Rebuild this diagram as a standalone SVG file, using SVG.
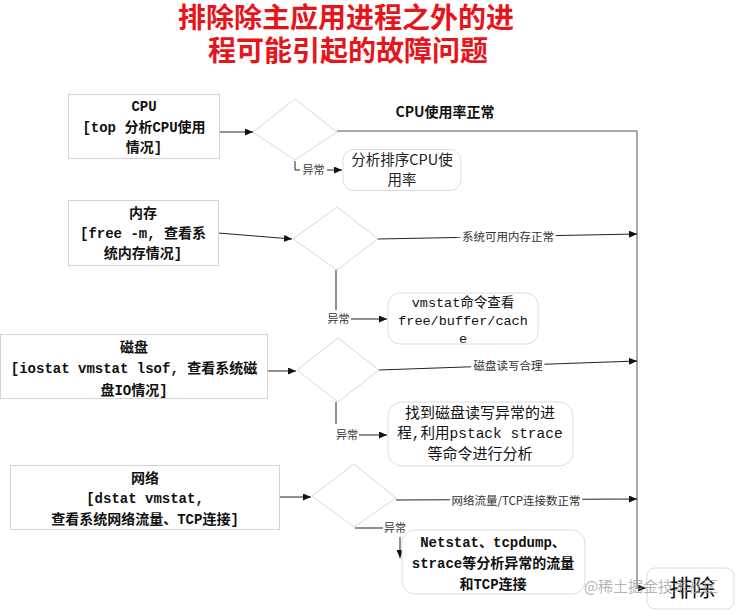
<svg xmlns="http://www.w3.org/2000/svg" width="737" height="614" viewBox="0 0 737 614">
<defs>
<marker id="arr" markerUnits="userSpaceOnUse" markerWidth="8" markerHeight="7" refX="8" refY="3.5" orient="auto">
<path d="M0,0 L8,3.5 L0,7 z" fill="#111"/>
</marker>
<style>
.title{font-family:"Noto Sans CJK SC","Noto Sans",sans-serif;font-size:28px;font-weight:bold;fill:#e8141a;text-anchor:middle}
.box{fill:#fff;stroke:#d4d4d4;stroke-width:1}
.rbox{fill:#fff;stroke:#dcdcdc;stroke-width:1}
.dia{fill:#fff;stroke:#d8d8d8;stroke-width:1}
.mono{font-family:"Liberation Mono","Noto Sans CJK SC",monospace;font-size:14px;fill:#111;text-anchor:middle}
.b{font-weight:bold}
.sans{font-family:"Noto Sans CJK SC","Noto Sans",sans-serif;font-size:14.5px;fill:#222;text-anchor:middle}
.lbl{font-family:"Noto Sans CJK SC","Noto Sans",sans-serif;font-size:11.5px;fill:#333;text-anchor:middle;paint-order:stroke;stroke:#fff;stroke-width:5px}
.sm{font-family:"Noto Sans CJK SC","Noto Sans",sans-serif;font-size:11px;fill:#333;text-anchor:middle}
.ln{fill:none;stroke:#222;stroke-width:1}
.gl{fill:none;stroke:#555;stroke-width:1}
</style>
</defs>
<rect width="737" height="614" fill="#fff"/>
<g id="title">
<text class="title" x="346" y="28">排除除主应用进程之外的进</text>
<text class="title" x="348" y="61">程可能引起的故障问题</text>
</g>
<g id="connectors">
<line class="ln" x1="220" y1="132" x2="253" y2="132" marker-end="url(#arr)"/>
<path class="gl" d="M337,131 H637 V588 H646" marker-end="url(#arr)"/>
<path class="ln" d="M295,161 V170 H300"/>
<line class="ln" x1="327" y1="170" x2="342" y2="170" marker-end="url(#arr)"/>
<line class="ln" x1="218" y1="233" x2="292" y2="239" marker-end="url(#arr)"/>
<line class="ln" x1="378" y1="239" x2="637" y2="234" marker-end="url(#arr)"/>
<line class="ln" x1="336" y1="270" x2="336" y2="310"/>
<line class="ln" x1="351" y1="319" x2="387" y2="319" marker-end="url(#arr)"/>
<line class="ln" x1="268" y1="371" x2="296" y2="371" marker-end="url(#arr)"/>
<line class="ln" x1="379" y1="370" x2="637" y2="361" marker-end="url(#arr)"/>
<line class="ln" x1="336" y1="402" x2="336" y2="424"/>
<line class="ln" x1="359" y1="435" x2="387" y2="435" marker-end="url(#arr)"/>
<line class="ln" x1="280" y1="497" x2="311" y2="497" marker-end="url(#arr)"/>
<line class="ln" x1="396" y1="500" x2="637" y2="499" marker-end="url(#arr)"/>
<line class="ln" x1="355" y1="528" x2="383" y2="528"/>
<line class="ln" x1="400" y1="537" x2="400" y2="558" marker-end="url(#arr)"/>
<text class="b" x="445" y="117" style="font-family:'Noto Sans CJK SC','Noto Sans',sans-serif;font-size:14px;fill:#111;text-anchor:middle">CPU使用率正常</text>
<text class="sm" x="313.5" y="174">异常</text>
<text class="lbl" x="508" y="241">系统可用内存正常</text>
<text class="sm" x="338.5" y="323">异常</text>
<text class="lbl" x="508" y="370">磁盘读写合理</text>
<text class="sm" x="347" y="439">异常</text>
<text class="lbl" x="516" y="505">网络流量/TCP连接数正常</text>
<text class="sm" x="395" y="532">异常</text>
</g>
<g id="cpu">
<rect class="box" x="68.5" y="94.5" width="151" height="64"/>
<text class="mono b" x="144" y="111">CPU</text>
<text class="mono b" x="144" y="132">[top 分析CPU使用</text>
<text class="mono b" x="144" y="152">情况]</text>
</g>
<g id="cpu-check"><polygon class="dia" points="253,132 295,99 337,132 295,160"/></g>
<g id="cpu-analyze">
<rect class="rbox" x="343" y="149.5" width="118" height="41" rx="11"/>
<text class="sans" x="402" y="165">分析排序CPU使</text>
<text class="sans" x="402" y="185">用率</text>
</g>
<g id="mem">
<rect class="box" x="68.5" y="200.5" width="150" height="65"/>
<text class="mono b" x="143" y="218">内存</text>
<text class="mono b" x="143" y="238">[free -m, 查看系</text>
<text class="mono b" x="143" y="258">统内存情况]</text>
</g>
<g id="mem-check"><polygon class="dia" points="293,239 337,207 378,239 337,270"/></g>
<g id="mem-analyze">
<rect class="rbox" x="388" y="293" width="150" height="51" rx="12"/>
<text class="mono" x="463" y="307" style="font-size:13.5px">vmstat命令查看</text>
<text class="mono" x="463" y="325" style="font-size:13.5px">free/buffer/cach</text>
<text class="mono" x="463" y="343" style="font-size:13.5px">e</text>
</g>
<g id="disk">
<rect class="box" x="0.5" y="334.5" width="267" height="64"/>
<text class="mono b" x="134" y="352">磁盘</text>
<text class="mono b" x="134" y="373">[iostat vmstat lsof, 查看系统磁</text>
<text class="mono b" x="134" y="395">盘IO情况]</text>
</g>
<g id="disk-check"><polygon class="dia" points="297,370 338,338 379,370 338,402"/></g>
<g id="disk-analyze">
<rect class="rbox" x="388" y="402" width="185" height="64" rx="14"/>
<text class="mono" x="480" y="418" style="font-size:15px">找到磁盘读写异常的进</text>
<text class="mono" x="480" y="438" style="font-size:14.5px">程,利用pstack strace</text>
<text class="mono" x="480" y="459" style="font-size:15px">等命令进行分析</text>
</g>
<g id="net">
<rect class="box" x="10.5" y="465.5" width="269" height="64"/>
<text class="mono b" x="145" y="483">网络</text>
<text class="mono b" x="145" y="503">[dstat vmstat,</text>
<text class="mono b" x="145" y="524">查看系统网络流量、TCP连接]</text>
</g>
<g id="net-check"><polygon class="dia" points="312,496 354,464 396,498 354,527"/></g>
<g id="net-analyze">
<rect class="rbox" x="402" y="530" width="183" height="64" rx="13"/>
<text class="mono b" x="493" y="547">Netstat、tcpdump、</text>
<text class="mono b" x="493" y="568">strace等分析异常的流量</text>
<text class="mono b" x="493" y="589">和TCP连接</text>
</g>
<g id="exclude">
<rect class="rbox" x="647" y="568" width="87" height="41" rx="8"/>
<text x="692" y="596" style="font-family:'Noto Sans CJK SC','Noto Sans',sans-serif;font-size:23px;fill:#111;text-anchor:middle">排除</text>
</g>
<text x="651" y="592" style="font-family:'Noto Sans CJK SC','Noto Sans',sans-serif;font-size:15px;fill:#9a9a9a;fill-opacity:0.75;text-anchor:middle">@稀土掘金技术社区</text>
</svg>
